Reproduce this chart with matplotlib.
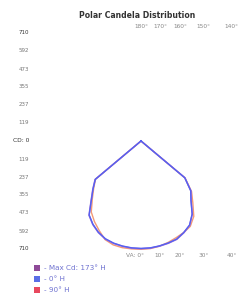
import numpy as np
import matplotlib
matplotlib.use("Agg")
import matplotlib.pyplot as plt

# --- Data (candela vs vertical angle, 0 = nadir, + = right half) ---
ANGLES = [-55, -50, -45, -40, -35, -30, -25, -20, -15, -10, -5, 0,
          5, 10, 15, 20, 25, 30, 35, 40, 45, 50, 55]
CD_0H = [0, 392, 446, 508, 594, 632, 662, 684, 695, 701, 705, 706,
         705, 700, 694, 686, 664, 638, 586, 511, 462, 375, 0]
CD_90H = [0, 390, 440, 498, 570, 612, 650, 690, 707, 712, 712, 712,
          710, 702, 690, 676, 664, 648, 605, 530, 470, 378, 0]
CD_MAX = [0, 394, 448, 510, 596, 634, 664, 686, 697, 703, 707, 708,
          707, 702, 696, 688, 666, 640, 588, 513, 464, 377, 0]

MAX_CD = 710
CD_TICKS = [119, 237, 355, 473, 592, 710]
VA_BOTTOM = [0, 10, 20, 30, 40]
VA_TOP = [180, 170, 160, 150, 140]
LEGEND_LABELS = ["- Max Cd: 173\u00b0 H", "- 0\u00b0 H", "- 90\u00b0 H"]
LEGEND_COLORS = ["#8e4a98", "#5a6ee6", "#e8485e"]

# pixel geometry of the original: centre at (141, 141), 108 px = 710 cd
W, H = 247, 296
CX, CY = 141, 141
SCALE = MAX_CD / 108.0


def to_xy(angles, values):
    t = np.radians(angles)
    v = np.asarray(values, dtype=float)
    return v * np.sin(t), -v * np.cos(t)


fig = plt.figure(figsize=(W / 100, H / 100), dpi=100)
ax = fig.add_axes([0, 0, 1, 1])
ax.set_xlim(-CX * SCALE, (W - CX) * SCALE)
ax.set_ylim(-(H - CY) * SCALE, CY * SCALE)
ax.axis("off")

# curves
x, y = to_xy(ANGLES, CD_90H)
ax.plot(x, y, color="#f39a78", lw=1.0, zorder=3)
x, y = to_xy(ANGLES, CD_MAX)
ax.plot(x, y, color="#a070d8", lw=1.1, zorder=4)
x, y = to_xy(ANGLES, CD_0H)
ax.plot(x, y, color="#5560f0", lw=1.0, zorder=5)

# title
ax.text(-4 * SCALE, (CY - 15) * SCALE, "Polar Candela Distribution",
        ha="center", va="center", fontsize=5.6, fontweight="bold", color="#333333")

# candela scale on the left
lx = (29 - CX) * SCALE
for v in CD_TICKS:
    col = "#333333" if v == MAX_CD else "#777777"
    ax.text(lx, v, str(v), ha="right", va="center", fontsize=4.0, color=col)
    ax.text(lx, -v, str(v), ha="right", va="center", fontsize=4.0, color=col)
ax.text(lx, 0, "CD: 0", ha="right", va="center", fontsize=4.3, color="#333333")

# vertical angle labels
ly = 756
for a in VA_BOTTOM:
    xp = MAX_CD * np.tan(np.radians(a))
    if a == 0:
        ax.text(xp + 3 * SCALE, -ly, "VA: 0\u00b0", ha="right", va="center",
                fontsize=4.2, color="#888888")
    else:
        ax.text(xp, -ly, f"{a}\u00b0", ha="center", va="center",
                fontsize=4.2, color="#888888")
for a in VA_TOP:
    xp = MAX_CD * np.tan(np.radians(180 - a))
    ax.text(xp, ly, f"{a}\u00b0", ha="center", va="center",
            fontsize=4.2, color="#888888")

# legend
for i, (lab, col) in enumerate(zip(LEGEND_LABELS, LEGEND_COLORS)):
    yp = -(268 + 11 * i - CY) * SCALE
    ax.scatter([(37 - CX) * SCALE], [yp], marker="s", s=16, color=col,
               linewidths=0, zorder=5)
    ax.text((44 - CX) * SCALE, yp, lab, ha="left", va="center",
            fontsize=5.2, color="#6f72d0")

fig.savefig("out.png", dpi=100)
